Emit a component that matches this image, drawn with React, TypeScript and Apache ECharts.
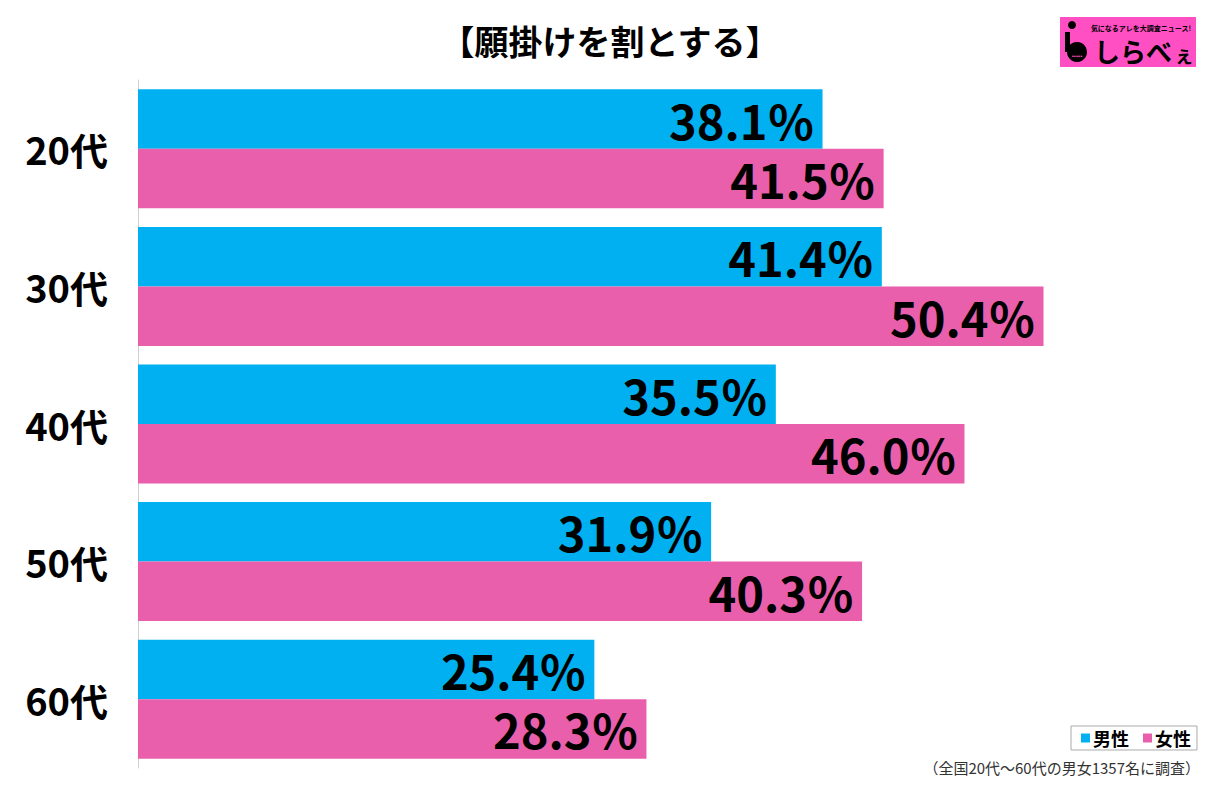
import React, { useEffect, useRef } from "react";
import * as echarts from "echarts";

const categories = ["20代", "30代", "40代", "50代", "60代"];
const maleValues = [38.1, 41.4, 35.5, 31.9, 25.4];
const femaleValues = [41.5, 50.4, 46.0, 40.3, 28.3];
const seriesNames = ["男性", "女性"];
const title = "【願掛けを割とする】";
const footnote = "（全国20代～60代の男女1357名に調査）";

const FONT = '"Noto Sans CJK JP", "Noto Sans", sans-serif';
const BLUE = "#00b0f0";
const PINK = "#e95fab";

export default function App() {
  const ref = useRef<HTMLDivElement>(null);
  useEffect(() => {
    document.body.style.margin = "0";
    const chart = echarts.init(ref.current!, null, { renderer: "svg" });
    const label = {
      show: true,
      position: "insideRight",
      distance: 8,
      color: "#000",
      fontFamily: FONT,
      fontWeight: "bold",
      fontSize: 47,
      formatter: (p: any) => Number(p.value).toFixed(1) + "％",
    };
    chart.setOption({
      animation: false,
      backgroundColor: "#fff",
      textStyle: { fontFamily: FONT },
      title: {
        text: title,
        left: "center",
        top: 18,
        textStyle: { fontFamily: FONT, fontWeight: "bold", fontSize: 34, color: "#000" },
      },
      legend: {
        data: seriesNames,
        right: 23,
        top: 726,
        icon: "rect",
        itemWidth: 9,
        itemHeight: 9,
        itemGap: 14,
        borderColor: "#aaa",
        borderWidth: 1,
        padding: [3, 6, 3, 10],
        textStyle: { fontFamily: FONT, fontWeight: "bold", fontSize: 18, color: "#000", padding: [0, 0, 0, -2] },
      },
      grid: { left: 138, top: 80, width: 1078, height: 688, containLabel: false },
      xAxis: {
        type: "value",
        min: 0,
        max: 60,
        show: false,
      },
      yAxis: {
        type: "category",
        data: categories,
        inverse: true,
        axisLine: { show: true, lineStyle: { color: "#d0d0d0", width: 1 } },
        axisTick: { show: false },
        axisLabel: {
          fontFamily: FONT,
          fontSize: 38,
          fontWeight: "bold",
          color: "#000",
          margin: 30,
        },
      },
      series: [
        {
          name: seriesNames[0],
          type: "bar",
          data: maleValues,
          itemStyle: { color: BLUE },
          barGap: "0%",
          barCategoryGap: "13.5%",
          label,
        },
        {
          name: seriesNames[1],
          type: "bar",
          data: femaleValues,
          itemStyle: { color: PINK },
          barGap: "0%",
          barCategoryGap: "13.5%",
          label,
        },
      ],
      graphic: [
        {
          type: "text",
          right: 20,
          top: 760,
          style: { text: footnote, fontFamily: FONT, fontSize: 15, fill: "#333" },
        },
        {
          type: "group",
          left: 1060,
          top: 17,
          children: [
            { type: "rect", shape: { x: 0, y: 0, width: 136, height: 50 }, style: { fill: "#ff4fc3" } },
            { type: "circle", shape: { cx: 12, cy: 8, r: 4 }, style: { fill: "#000" } },
            { type: "rect", shape: { x: 5, y: 15, width: 5, height: 20 }, style: { fill: "#000" } },
            { type: "circle", shape: { cx: 17, cy: 35, r: 10 }, style: { fill: "#000" } },
            {
              type: "text",
              x: 17,
              y: 39,
              style: { text: "•••••", fontSize: 6, fill: "#ff4fc3", align: "center", verticalAlign: "middle" },
            },
            {
              type: "text",
              x: 81,
              y: 11,
              style: {
                text: "気になるアレを大調査ニュース!",
                fontFamily: FONT,
                fontSize: 7,
                fontWeight: "bold",
                fill: "#000",
                align: "center",
                verticalAlign: "middle",
              },
            },
            {
              type: "text",
              x: 34,
              y: 33,
              style: {
                text: "しらべ",
                fontFamily: FONT,
                fontSize: 26,
                fontWeight: "bold",
                fill: "#000",
                verticalAlign: "middle",
              },
            },
            {
              type: "text",
              x: 114,
              y: 37,
              style: {
                text: "ぇ",
                fontFamily: FONT,
                fontSize: 20,
                fontWeight: "bold",
                fill: "#000",
                verticalAlign: "middle",
              },
            },
          ],
        },
      ],
    });
    return () => chart.dispose();
  }, []);
  return <div ref={ref} style={{ width: 1220, height: 789 }} />;
}
